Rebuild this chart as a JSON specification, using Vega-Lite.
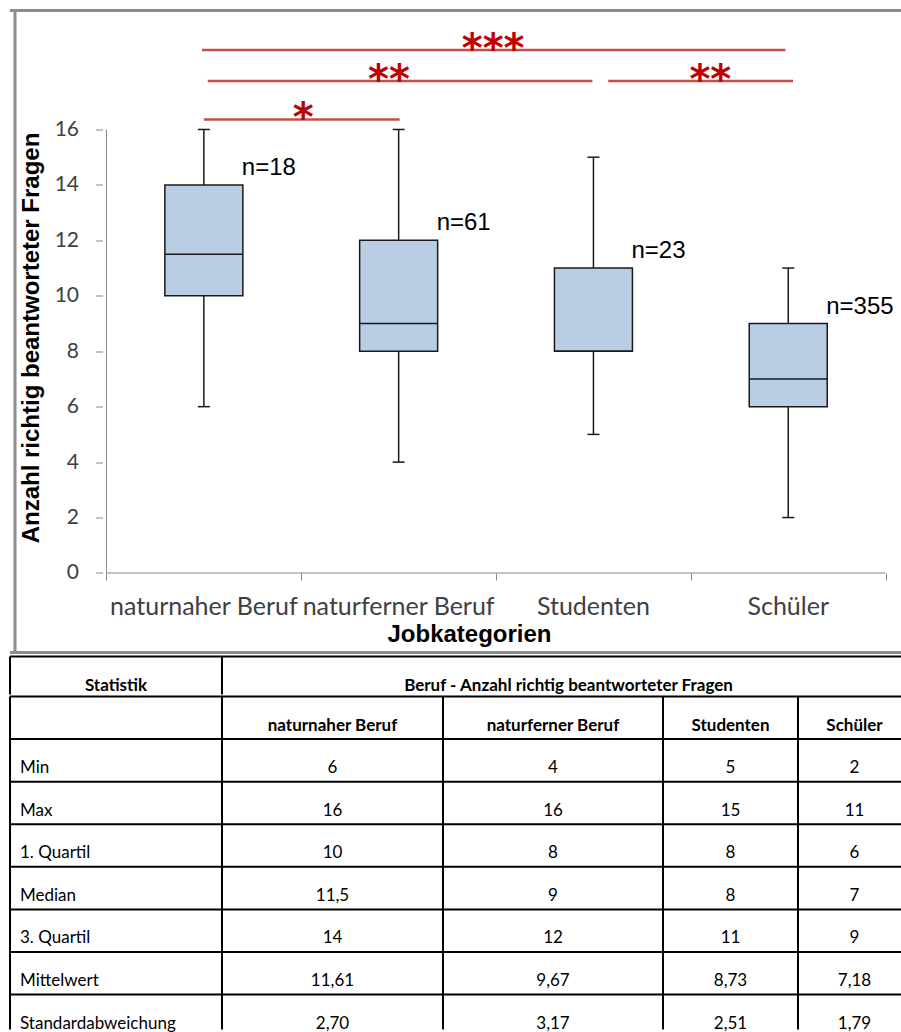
{
  "$schema": "https://vega.github.io/schema/vega-lite/v6.json",
  "padding": {"left": 2, "top": 8.5, "right": 0, "bottom": 0},
  "background": "white",
  "spacing": 1,
  "config": {"view": {"stroke": null}},
  "datasets": {
    "boxes": [
      {"cat": "naturnaher Beruf", "idx": 1, "min": 6, "q1": 10, "median": 11.5, "q3": 14, "max": 16, "n": "n=18"},
      {"cat": "naturferner Beruf", "idx": 2, "min": 4, "q1": 8, "median": 9, "q3": 12, "max": 16, "n": "n=61"},
      {"cat": "Studenten", "idx": 3, "min": 5, "q1": 8, "median": 8, "q3": 11, "max": 15, "n": "n=23"},
      {"cat": "Schüler", "idx": 4, "min": 2, "q1": 6, "median": 7, "q3": 9, "max": 11, "n": "n=355"}
    ],
    "sig": [
      {"label": "***", "from": 0.99, "to": 3.985, "level": 18.87, "mid": 2.485},
      {"label": "**", "from": 1.02, "to": 2.995, "level": 17.75, "mid": 1.95},
      {"label": "**", "from": 3.076, "to": 4.025, "level": 17.75, "mid": 3.6},
      {"label": "*", "from": 1.0, "to": 2.005, "level": 16.36, "mid": 1.51}
    ],
    "table": [
      {"row": 0, "stat": "", "c1": "naturnaher Beruf", "c2": "naturferner Beruf", "c3": "Studenten", "c4": "Schüler"},
      {"row": 1, "stat": "Min", "c1": "6", "c2": "4", "c3": "5", "c4": "2"},
      {"row": 2, "stat": "Max", "c1": "16", "c2": "16", "c3": "15", "c4": "11"},
      {"row": 3, "stat": "1. Quartil", "c1": "10", "c2": "8", "c3": "8", "c4": "6"},
      {"row": 4, "stat": "Median", "c1": "11,5", "c2": "9", "c3": "8", "c4": "7"},
      {"row": 5, "stat": "3. Quartil", "c1": "14", "c2": "12", "c3": "11", "c4": "9"},
      {"row": 6, "stat": "Mittelwert", "c1": "11,61", "c2": "9,67", "c3": "8,73", "c4": "7,18"},
      {"row": 7, "stat": "Standardabweichung", "c1": "2,70", "c2": "3,17", "c3": "2,51", "c4": "1,79"}
    ],
    "one": [{"k": 1}]
  },
  "vconcat": [
    {
      "width": 893,
      "height": 642,
      "data": {"name": "boxes"},
      "layer": [
        {
          "data": {"name": "one"},
          "mark": {"type": "rule", "color": "#ffffff", "strokeWidth": 12},
          "encoding": {"x": {"datum": 0.03046, "type": "quantitative"}, "y": {"datum": 18.5, "type": "quantitative"}, "y2": {"datum": 19.3}}
        },
        {
          "data": {"name": "one"},
          "mark": {"type": "rule", "color": "#8c8c8c", "strokeWidth": 3},
          "encoding": {"x": {"datum": 0.03046, "type": "quantitative"}}
        },
        {
          "data": {"name": "one"},
          "mark": {"type": "rule", "color": "#8c8c8c", "strokeWidth": 3},
          "encoding": {"y": {"datum": 20.292, "type": "quantitative"}}
        },
        {
          "data": {"name": "one"},
          "mark": {"type": "rule", "color": "#8c8c8c", "strokeWidth": 3},
          "encoding": {"y": {"datum": -2.868, "type": "quantitative"}}
        },
        {
          "data": {"name": "one"},
          "mark": {"type": "rule", "color": "#868686", "strokeWidth": 1},
          "encoding": {"x": {"datum": 0.5, "type": "quantitative"}, "y": {"datum": 0, "type": "quantitative"}, "y2": {"datum": 16}}
        },
        {
          "data": {"name": "one"},
          "mark": {"type": "rule", "color": "#868686", "strokeWidth": 1},
          "encoding": {"y": {"datum": 0, "type": "quantitative"}, "x": {"datum": 0.5, "type": "quantitative"}, "x2": {"datum": 4.5}}
        },
        {
          "mark": {"type": "rule", "color": "#1a1a1a", "strokeWidth": 1.5},
          "encoding": {"x": {"field": "idx", "type": "quantitative"}, "y": {"field": "min", "type": "quantitative"}, "y2": {"field": "q1"}}
        },
        {
          "mark": {"type": "rule", "color": "#1a1a1a", "strokeWidth": 1.5},
          "encoding": {"x": {"field": "idx", "type": "quantitative"}, "y": {"field": "q3", "type": "quantitative"}, "y2": {"field": "max"}}
        },
        {
          "mark": {"type": "bar", "size": 78, "fill": "#b9cde5", "stroke": "#1a1a1a", "strokeWidth": 1.5},
          "encoding": {
            "x": {"field": "idx", "type": "quantitative",
              "scale": {"domain": [0.03046, 4.5635], "nice": false, "zero": false},
              "axis": {"orient": "bottom", "offset": -79.5, "values": [0.5, 1.5, 2.5, 3.5, 4.5], "labels": false, "domain": false, "grid": false,
                "tickSize": 7, "tickColor": "#868686", "tickWidth": 1,
                "title": "Jobkategorien", "titleFont": "Liberation Sans", "titleFontSize": 24, "titleFontWeight": "bold", "titleColor": "#000000",
                "titleX": 459, "titleY": 61.5, "titleBaseline": "middle"}},
            "y": {"field": "q1", "type": "quantitative",
              "scale": {"domain": [-2.868, 20.292], "nice": false, "zero": false},
              "axis": {"orient": "left", "offset": -92.5, "values": [0, 2, 4, 6, 8, 10, 12, 14, 16], "domain": false, "grid": false,
                "tickSize": 7, "tickColor": "#868686", "tickWidth": 1,
                "labelFont": "Lato", "labelFontSize": 21, "labelColor": "#404040", "labelPadding": 17,
                "title": "Anzahl richtig beantworteter Fragen", "titleFont": "Liberation Sans", "titleFontSize": 24, "titleFontWeight": "bold", "titleColor": "#000000",
                "titleX": -71, "titleY": 327, "titleBaseline": "middle"}},
            "y2": {"field": "q3"}
          }
        },
        {
          "mark": {"type": "tick", "orient": "horizontal", "size": 78, "thickness": 1.5, "color": "#1a1a1a", "opacity": 1},
          "encoding": {"x": {"field": "idx", "type": "quantitative"}, "y": {"field": "median", "type": "quantitative"}}
        },
        {
          "mark": {"type": "tick", "orient": "horizontal", "size": 12, "thickness": 1.5, "color": "#1a1a1a", "opacity": 1},
          "encoding": {"x": {"field": "idx", "type": "quantitative"}, "y": {"field": "min", "type": "quantitative"}}
        },
        {
          "mark": {"type": "tick", "orient": "horizontal", "size": 12, "thickness": 1.5, "color": "#1a1a1a", "opacity": 1},
          "encoding": {"x": {"field": "idx", "type": "quantitative"}, "y": {"field": "max", "type": "quantitative"}}
        },
        {
          "mark": {"type": "text", "font": "Liberation Sans", "fontSize": 24, "color": "#000000", "align": "left", "baseline": "alphabetic", "dx": 38, "dy": -10},
          "encoding": {"x": {"field": "idx", "type": "quantitative"}, "y": {"field": "q3", "type": "quantitative"}, "text": {"field": "n"}}
        },
        {
          "mark": {"type": "text", "font": "Lato", "fontSize": 25, "color": "#404040", "align": "center", "baseline": "middle", "dy": 34},
          "encoding": {"x": {"field": "idx", "type": "quantitative"}, "y": {"datum": 0, "type": "quantitative"}, "text": {"field": "cat"}}
        },
        {
          "data": {"name": "sig"},
          "mark": {"type": "rule", "color": "#c0504d", "strokeWidth": 2.5},
          "encoding": {"x": {"field": "from", "type": "quantitative"}, "x2": {"field": "to"}, "y": {"field": "level", "type": "quantitative"}}
        },
        {
          "data": {"name": "sig"},
          "mark": {"type": "text", "font": "DejaVu Sans", "fontSize": 40, "fontWeight": "bold", "color": "#c00000", "align": "center", "baseline": "alphabetic", "dy": 12},
          "encoding": {"x": {"field": "mid", "type": "quantitative"}, "y": {"field": "level", "type": "quantitative"}, "text": {"field": "label"}}
        }
      ]
    },
    {
      "vconcat": [
        {
          "hconcat": [
            {
              "width": 212, "height": 38,
              "data": {"name": "one"},
              "layer": [
                {"mark": {"type": "rule", "color": "#ffffff", "strokeWidth": 16},
                 "encoding": {"x": {"datum": 0, "type": "quantitative", "scale": {"domain": [0, 1], "nice": false, "zero": false}, "axis": null},
                   "y": {"datum": 0.45, "type": "quantitative", "scale": {"domain": [0, 1], "reverse": true, "nice": false, "zero": false}, "axis": null}, "y2": {"datum": 0.55}}},
                {"mark": {"type": "rule", "color": "#000000", "strokeWidth": 2},
                 "encoding": {"x": {"datum": 0, "type": "quantitative", "axis": null}}},
                {"mark": {"type": "rule", "color": "#000000", "strokeWidth": 2},
                 "encoding": {"y": {"datum": 0, "type": "quantitative", "axis": null}}},
                {"mark": {"type": "text", "font": "Lato", "fontSize": 17, "fontWeight": "bold", "color": "#000000", "align": "center", "baseline": "alphabetic", "dy": 34},
                 "encoding": {"x": {"datum": 0.5, "type": "quantitative", "axis": null}, "y": {"datum": 0, "type": "quantitative", "axis": null}, "text": {"value": "Statistik"}}}
              ]
            },
            {
              "width": 681, "height": 38,
              "data": {"name": "one"},
              "layer": [
                {"mark": {"type": "rule", "color": "#000000", "strokeWidth": 2},
                 "encoding": {"x": {"datum": 0, "type": "quantitative", "scale": {"domain": [0, 1], "nice": false, "zero": false}, "axis": null}}},
                {"mark": {"type": "rule", "color": "#000000", "strokeWidth": 2},
                 "encoding": {"y": {"datum": 0, "type": "quantitative", "scale": {"domain": [0, 1], "reverse": true, "nice": false, "zero": false}, "axis": null}}},
                {"mark": {"type": "text", "font": "Lato", "fontSize": 17, "fontWeight": "bold", "color": "#000000", "align": "center", "baseline": "alphabetic", "dy": 34, "dx": 6},
                 "encoding": {"x": {"datum": 0.5, "type": "quantitative", "axis": null}, "y": {"datum": 0, "type": "quantitative", "axis": null}, "text": {"value": "Beruf - Anzahl richtig beantworteter Fragen"}}}
              ]
            }
          ],
          "spacing": 0,
          "bounds": "flush"
        },
        {
          "hconcat": [
            {
              "width": 212, "height": 333,
              "data": {"name": "table"},
              "layer": [
                {"data": {"name": "one"}, "mark": {"type": "rule", "color": "#ffffff", "strokeWidth": 16},
                 "encoding": {"x": {"datum": 0, "type": "quantitative", "scale": {"domain": [0, 1], "nice": false, "zero": false}, "axis": null},
                   "y": {"datum": 3.2, "type": "quantitative", "scale": {"domain": [0, 7.82], "reverse": true, "nice": false, "zero": false}, "axis": null}, "y2": {"datum": 3.4}}},
                {"data": {"name": "one"}, "mark": {"type": "rule", "color": "#000000", "strokeWidth": 2},
                 "encoding": {"x": {"datum": 0, "type": "quantitative", "axis": null}}},
                {"mark": {"type": "rule", "color": "#000000", "strokeWidth": 2},
                 "encoding": {"y": {"field": "row", "type": "quantitative", "axis": null}}},
                {"mark": {"type": "text", "font": "Lato", "fontSize": 17, "color": "#000000", "align": "left", "baseline": "alphabetic", "dy": 34, "dx": 10},
                 "encoding": {"x": {"datum": 0, "type": "quantitative", "axis": null}, "y": {"field": "row", "type": "quantitative", "axis": null}, "text": {"field": "stat"}}}
              ]
            },
            {
              "width": 221, "height": 333,
              "data": {"name": "table"},
              "layer": [
                {"data": {"name": "one"}, "mark": {"type": "rule", "color": "#000000", "strokeWidth": 2},
                 "encoding": {"x": {"datum": 0, "type": "quantitative", "scale": {"domain": [0, 1], "nice": false, "zero": false}, "axis": null}}},
                {"mark": {"type": "rule", "color": "#000000", "strokeWidth": 2},
                 "encoding": {"y": {"field": "row", "type": "quantitative", "scale": {"domain": [0, 7.82], "reverse": true, "nice": false, "zero": false}, "axis": null}}},
                {"transform": [{"filter": "datum.row == 0"}],
                 "mark": {"type": "text", "font": "Lato", "fontSize": 17, "fontWeight": "bold", "color": "#000000", "align": "center", "baseline": "alphabetic", "dy": 34},
                 "encoding": {"x": {"datum": 0.5, "type": "quantitative", "axis": null}, "y": {"field": "row", "type": "quantitative", "axis": null}, "text": {"field": "c1"}}},
                {"transform": [{"filter": "datum.row > 0"}],
                 "mark": {"type": "text", "font": "Lato", "fontSize": 17, "color": "#000000", "align": "center", "baseline": "alphabetic", "dy": 34},
                 "encoding": {"x": {"datum": 0.5, "type": "quantitative", "axis": null}, "y": {"field": "row", "type": "quantitative", "axis": null}, "text": {"field": "c1"}}}
              ]
            },
            {
              "width": 220, "height": 333,
              "data": {"name": "table"},
              "layer": [
                {"data": {"name": "one"}, "mark": {"type": "rule", "color": "#000000", "strokeWidth": 2},
                 "encoding": {"x": {"datum": 0, "type": "quantitative", "scale": {"domain": [0, 1], "nice": false, "zero": false}, "axis": null}}},
                {"mark": {"type": "rule", "color": "#000000", "strokeWidth": 2},
                 "encoding": {"y": {"field": "row", "type": "quantitative", "scale": {"domain": [0, 7.82], "reverse": true, "nice": false, "zero": false}, "axis": null}}},
                {"transform": [{"filter": "datum.row == 0"}],
                 "mark": {"type": "text", "font": "Lato", "fontSize": 17, "fontWeight": "bold", "color": "#000000", "align": "center", "baseline": "alphabetic", "dy": 34},
                 "encoding": {"x": {"datum": 0.5, "type": "quantitative", "axis": null}, "y": {"field": "row", "type": "quantitative", "axis": null}, "text": {"field": "c2"}}},
                {"transform": [{"filter": "datum.row > 0"}],
                 "mark": {"type": "text", "font": "Lato", "fontSize": 17, "color": "#000000", "align": "center", "baseline": "alphabetic", "dy": 34},
                 "encoding": {"x": {"datum": 0.5, "type": "quantitative", "axis": null}, "y": {"field": "row", "type": "quantitative", "axis": null}, "text": {"field": "c2"}}}
              ]
            },
            {
              "width": 135, "height": 333,
              "data": {"name": "table"},
              "layer": [
                {"data": {"name": "one"}, "mark": {"type": "rule", "color": "#000000", "strokeWidth": 2},
                 "encoding": {"x": {"datum": 0, "type": "quantitative", "scale": {"domain": [0, 1], "nice": false, "zero": false}, "axis": null}}},
                {"mark": {"type": "rule", "color": "#000000", "strokeWidth": 2},
                 "encoding": {"y": {"field": "row", "type": "quantitative", "scale": {"domain": [0, 7.82], "reverse": true, "nice": false, "zero": false}, "axis": null}}},
                {"transform": [{"filter": "datum.row == 0"}],
                 "mark": {"type": "text", "font": "Lato", "fontSize": 17, "fontWeight": "bold", "color": "#000000", "align": "center", "baseline": "alphabetic", "dy": 34},
                 "encoding": {"x": {"datum": 0.5, "type": "quantitative", "axis": null}, "y": {"field": "row", "type": "quantitative", "axis": null}, "text": {"field": "c3"}}},
                {"transform": [{"filter": "datum.row > 0"}],
                 "mark": {"type": "text", "font": "Lato", "fontSize": 17, "color": "#000000", "align": "center", "baseline": "alphabetic", "dy": 34},
                 "encoding": {"x": {"datum": 0.5, "type": "quantitative", "axis": null}, "y": {"field": "row", "type": "quantitative", "axis": null}, "text": {"field": "c3"}}}
              ]
            },
            {
              "width": 105, "height": 333,
              "data": {"name": "table"},
              "layer": [
                {"data": {"name": "one"}, "mark": {"type": "rule", "color": "#000000", "strokeWidth": 2},
                 "encoding": {"x": {"datum": 0, "type": "quantitative", "scale": {"domain": [0, 1], "nice": false, "zero": false}, "axis": null}}},
                {"mark": {"type": "rule", "color": "#000000", "strokeWidth": 2},
                 "encoding": {"y": {"field": "row", "type": "quantitative", "scale": {"domain": [0, 7.82], "reverse": true, "nice": false, "zero": false}, "axis": null}}},
                {"transform": [{"filter": "datum.row == 0"}],
                 "mark": {"type": "text", "font": "Lato", "fontSize": 17, "fontWeight": "bold", "color": "#000000", "align": "center", "baseline": "alphabetic", "dy": 34, "dx": 4},
                 "encoding": {"x": {"datum": 0.5, "type": "quantitative", "axis": null}, "y": {"field": "row", "type": "quantitative", "axis": null}, "text": {"field": "c4"}}},
                {"transform": [{"filter": "datum.row > 0"}],
                 "mark": {"type": "text", "font": "Lato", "fontSize": 17, "color": "#000000", "align": "center", "baseline": "alphabetic", "dy": 34, "dx": 4},
                 "encoding": {"x": {"datum": 0.5, "type": "quantitative", "axis": null}, "y": {"field": "row", "type": "quantitative", "axis": null}, "text": {"field": "c4"}}}
              ]
            }
          ],
          "spacing": 0,
          "bounds": "flush"
        }
      ],
      "spacing": 0
    }
  ]
}
